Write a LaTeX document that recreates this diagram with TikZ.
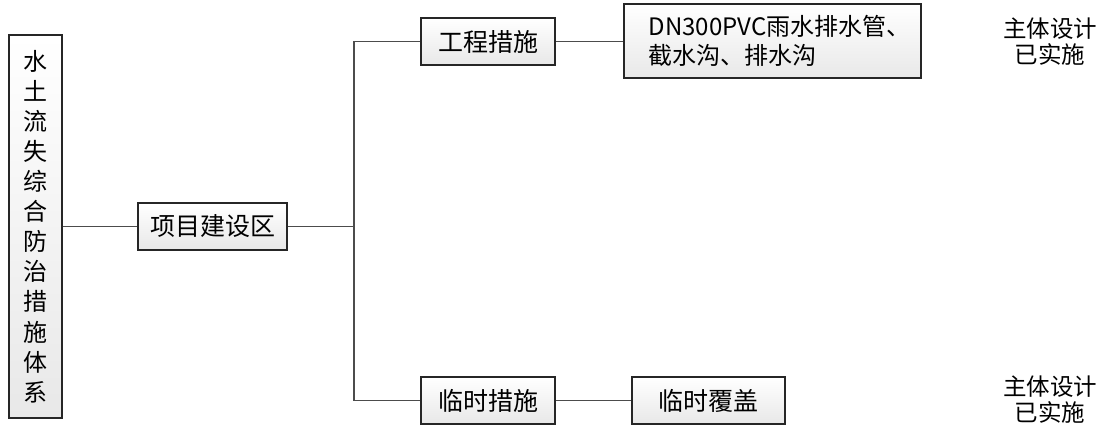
\documentclass[tikz,border=0pt]{standalone}
\usepackage{fontspec}
\setmainfont{Noto Sans CJK SC}
\usetikzlibrary{shadows}
\begin{document}
\begin{tikzpicture}[x=1pt,y=-1pt,
  box/.style={draw=black!85, line width=1.1pt, rectangle, inner sep=0pt,
    top color=white, bottom color=black!9,
    drop shadow={shadow xshift=1.2pt, shadow yshift=-1.2pt, opacity=0.35, fill=black!60},
    font=\fontsize{25}{29}\selectfont},
  link/.style={draw=black!70, line width=1.1pt},
  note/.style={align=center, font=\fontsize{23.5}{26}\selectfont, inner sep=0pt}]
\useasboundingbox (0,0) rectangle (1107,425);
\node[box, minimum width=53pt, minimum height=383pt, align=center,
  font=\fontsize{24}{30.1}\selectfont] (L) at (35.5,226.5)
  {水\\土\\流\\失\\综\\合\\防\\治\\措\\施\\体\\系};
\node[box, minimum width=149pt, minimum height=47pt] (P) at (212.5,226.5) {项目建设区};
\node[box, minimum width=134pt, minimum height=47pt] (E) at (488,41.5) {工程措施};
\node[box, minimum width=134pt, minimum height=47pt] (T) at (488,400.5) {临时措施};
\node[box, minimum width=297pt, minimum height=74pt, align=left,
  font=\fontsize{24}{29}\selectfont, text width=248pt] (R) at (772.5,41)
  {DN300PVC雨水排水管、\\截水沟、排水沟};
\node[box, minimum width=153pt, minimum height=47pt] (C) at (708.5,400.5) {临时覆盖};
\coordinate (J) at (354,226.5);
\draw[link] (L.east |- P.west) -- (P.west);
\draw[link] (P.east) -- (J);
\draw[link] (E.west) -| (J) |- (T.west);
\draw[link] (E.east) -- (E.east -| R.west);
\draw[link] (T.east) -- (C.west);
\node[note] (N1) at (1050,42) {主体设计\\已实施};
\node[note] (N2) at (1050,400) {主体设计\\已实施};
\end{tikzpicture}
\end{document}
